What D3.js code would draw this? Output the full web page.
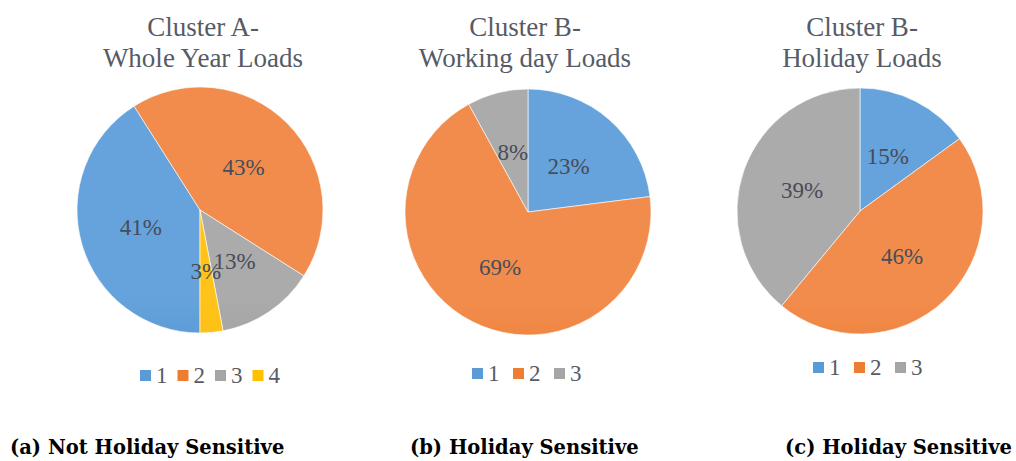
<!DOCTYPE html>
<meta charset="utf-8">
<style>
  body { margin: 0; background: #fff; }
</style>
<body>
<script src="https://d3js.org/d3.v7.min.js"></script>
<script>
// data
var clusters = ["1", "2", "3", "4"];
var valuesA = [41, 43, 13, 3];
var valuesB = [23, 69, 8];
var valuesC = [15, 46, 39];
var titles = [["Cluster A-", "Whole Year Loads"], ["Cluster B-", "Working day Loads"], ["Cluster B-", "Holiday Loads"]];
var captions = ["(a) Not Holiday Sensitive", "(b) Holiday Sensitive", "(c) Holiday Sensitive"];

var width = 1016, height = 461;
var serif = "Liberation Serif";
var colors = [["#66a3dc", "#2f77c0"], ["#f28c4c", "#e0630e"], ["#ababab", "#888888"], ["#ffc31a", "#efb000"]];
var legendColors = ["#5b9bd5", "#ed7d31", "#a5a5a5", "#ffc000"];

var svg = d3.select("body").append("svg")
  .attr("width", width)
  .attr("height", height);

var defs = svg.append("defs");

// layout for each pie: centre, start angle, legend position, title centre
var charts = [
  { values: valuesA, cx: 200, cy: 210, start: Math.PI, legendX: 140, legendY: 370, step: 37.5, titleX: 203 },
  { values: valuesB, cx: 528, cy: 212, start: 0, legendX: 472, legendY: 368, step: 41, titleX: 525 },
  { values: valuesC, cx: 860, cy: 211, start: 0, legendX: 813, legendY: 362, step: 41, titleX: 862 }
];
var r = 123;

charts.forEach(function(c, ci) {
  // vertical gradients per pie
  colors.forEach(function(col, k) {
    var g = defs.append("linearGradient")
      .attr("id", "g" + ci + "_" + k)
      .attr("gradientUnits", "userSpaceOnUse")
      .attr("x1", 0).attr("x2", 0)
      .attr("y1", c.cy - r).attr("y2", c.cy + r);
    g.append("stop").attr("offset", "0%").attr("stop-color", col[0]);
    g.append("stop").attr("offset", "100%").attr("stop-color", col[1]);
  });

  var pie = d3.pie().sort(null)
    .startAngle(c.start).endAngle(c.start + 2 * Math.PI);
  var arc = d3.arc().innerRadius(0).outerRadius(r);

  var g = svg.append("g").attr("transform", `translate(${c.cx},${c.cy})`);
  var arcs = pie(c.values);

  g.selectAll("path")
    .data(arcs)
    .enter().append("path")
    .attr("d", arc)
    .attr("fill", (d, i) => `url(#g${ci}_${i})`)
    .attr("stroke", "#fff")
    .attr("stroke-width", 0.6);

  g.selectAll(".pct")
    .data(arcs)
    .enter().append("text")
    .attr("class", "pct")
    .attr("transform", d => `translate(${arc.centroid(d)})`)
    .attr("text-anchor", "middle")
    .attr("dy", "0.35em")
    .style("font-family", serif)
    .style("font-size", "23px")
    .style("fill", "#474c58")
    .text(d => d.data + "%");

  // title
  svg.append("text")
    .attr("class", "title")
    .attr("x", c.titleX)
    .attr("text-anchor", "middle")
    .style("font-family", serif)
    .style("font-size", "27px")
    .style("fill", "#565b66")
    .selectAll("tspan")
    .data(titles[ci])
    .enter().append("tspan")
    .attr("x", c.titleX)
    .attr("y", (d, i) => 36 + i * 31)
    .text(d => d);

  // legend
  var lg = svg.append("g").attr("class", "legend")
    .attr("transform", `translate(${c.legendX},${c.legendY})`);
  var items = lg.selectAll("g")
    .data(clusters.slice(0, c.values.length))
    .enter().append("g")
    .attr("transform", (d, i) => `translate(${i * c.step},0)`);
  items.append("rect")
    .attr("width", 11).attr("height", 11)
    .attr("fill", (d, i) => legendColors[i]);
  items.append("text")
    .attr("x", 16).attr("y", 13)
    .style("font-family", serif)
    .style("font-size", "23px")
    .style("fill", "#565b66")
    .text(d => d);
});

// captions under the charts
var capX = [10, 410, 1012];
svg.selectAll(".caption")
  .data(captions)
  .enter().append("text")
  .attr("class", "caption")
  .attr("x", (d, i) => capX[i])
  .attr("y", 454)
  .attr("text-anchor", (d, i) => i == 2 ? "end" : "start")
  .style("font-family", "DejaVu Serif")
  .style("font-weight", "bold")
  .style("font-size", "19.5px")
  .style("fill", "#000")
  .text(d => d);
</script>
</body>
